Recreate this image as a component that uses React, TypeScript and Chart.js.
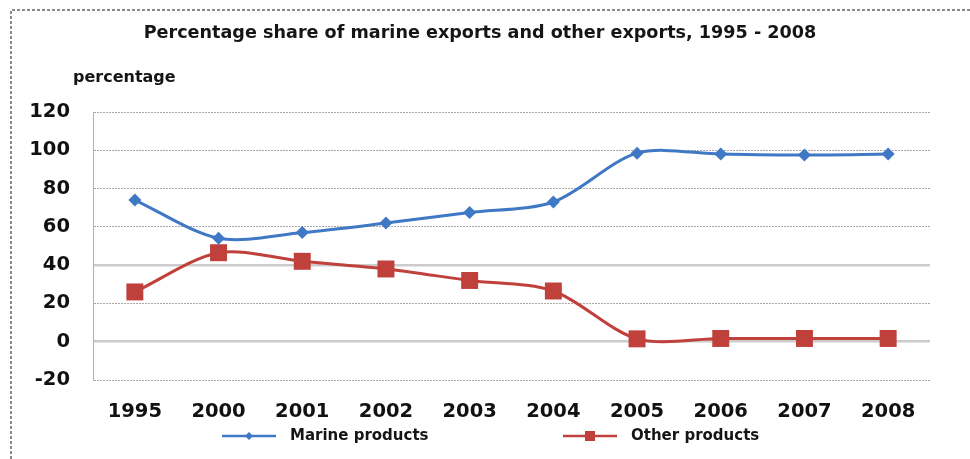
import React, { useEffect, useRef } from 'react';
import { Chart, registerables } from 'chart.js';

Chart.register(...registerables);

const categories = ['1995', '2000', '2001', '2002', '2003', '2004', '2005', '2006', '2007', '2008'];
const marineProducts = [74, 54, 57, 62, 67.5, 73, 98.5, 98, 97.5, 98];
const otherProducts = [26, 46.5, 42, 38, 32, 26.5, 1.5, 1.7, 1.7, 1.7];
const seriesNames = ['Marine products', 'Other products'];
const seriesColors = ['#3f78c4', '#c0403c'];
const yMin = -20;
const yMax = 120;
const yStep = 20;
const titleText = 'Percentage share of marine exports and other exports, 1995 - 2008';
const yAxisLabel = 'percentage';

const FONT = '"DejaVu Sans", Verdana, sans-serif';

const decorPlugin = {
  id: 'decor',
  beforeDraw(chart: any) {
    const ctx = chart.ctx;
    ctx.save();
    ctx.strokeStyle = '#8a8a8a';
    ctx.lineWidth = 2;
    ctx.setLineDash([3, 2]);
    ctx.beginPath();
    ctx.moveTo(11, 459);
    ctx.lineTo(11, 10);
    ctx.lineTo(970, 10);
    ctx.stroke();
    ctx.restore();
  },
  afterDraw(chart: any) {
    const ctx = chart.ctx;
    const area = chart.chartArea;
    ctx.save();
    ctx.fillStyle = '#151515';
    ctx.textBaseline = 'middle';
    // title
    ctx.font = `bold 17.6px ${FONT}`;
    ctx.textAlign = 'left';
    const tw = ctx.measureText(titleText).width;
    ctx.fillText(titleText, 480 - tw / 2, 33);
    // y label
    ctx.font = `bold 16px ${FONT}`;
    ctx.fillText(yAxisLabel, area.left - 20, 78);
    // legend
    const items = [
      { x: 222, textX: 290 },
      { x: 563, textX: 631 },
    ];
    const ly = 436;
    items.forEach((it, i) => {
      ctx.strokeStyle = seriesColors[i];
      ctx.fillStyle = seriesColors[i];
      ctx.lineWidth = 2.5;
      ctx.beginPath();
      ctx.moveTo(it.x, ly);
      ctx.lineTo(it.x + 54, ly);
      ctx.stroke();
      const cx = it.x + 27;
      ctx.beginPath();
      if (i === 0) {
        ctx.moveTo(cx - 4, ly);
        ctx.lineTo(cx, ly - 4);
        ctx.lineTo(cx + 4, ly);
        ctx.lineTo(cx, ly + 4);
        ctx.closePath();
      } else {
        ctx.rect(cx - 5, ly - 5, 10, 10);
      }
      ctx.fill();
      ctx.fillStyle = '#151515';
      ctx.font = `bold 15px ${FONT}`;
      ctx.fillText(seriesNames[i], it.textX, ly);
    });
    ctx.restore();
  },
};

export default function App() {
  const ref = useRef<HTMLCanvasElement | null>(null);
  useEffect(() => {
    if (!ref.current) return;
    const chart = new Chart(ref.current, {
      type: 'line',
      data: {
        labels: categories,
        datasets: [
          {
            label: seriesNames[0],
            data: marineProducts,
            borderColor: seriesColors[0],
            backgroundColor: seriesColors[0],
            borderWidth: 3,
            pointStyle: 'rectRot',
            pointRadius: 6.5,
            pointBorderWidth: 0,
            tension: 0.3,
          },
          {
            label: seriesNames[1],
            data: otherProducts,
            borderColor: seriesColors[1],
            backgroundColor: seriesColors[1],
            borderWidth: 3,
            pointStyle: 'rect',
            pointRadius: 12,
            pointBorderWidth: 0,
            tension: 0.3,
          },
        ],
      },
      options: {
        responsive: false,
        animation: false,
        layout: { padding: { top: 112, right: 40, bottom: 39, left: 0 } },
        plugins: {
          legend: { display: false },
          title: { display: false },
          tooltip: { enabled: false },
        },
        scales: {
          x: {
            offset: true,
            grid: { display: false, drawTicks: false },
            border: { display: false },
            ticks: {
              color: '#111',
              padding: 20,
              font: { family: FONT, size: 19.5, weight: 'bold' },
              maxRotation: 0,
            },
            afterFit(scale: any) {
              scale.height = 40;
            },
          },
          y: {
            min: yMin,
            max: yMax,
            ticks: {
              stepSize: yStep,
              color: '#111',
              padding: 23,
              font: { family: FONT, size: 19.5, weight: 'bold' },
            },
            grid: {
              drawTicks: false,
              color: (c: any) => (c.tick && (c.tick.value === 0 || c.tick.value === 40) ? '#cccccc' : '#a8a8a8'),
              lineWidth: (c: any) => (c.tick && (c.tick.value === 0 || c.tick.value === 40) ? 2.5 : 1),
            },
            border: {
              display: true,
              color: '#b0b0b0',
              width: 1,
              dash: (c: any) => (c.tick && (c.tick.value === 0 || c.tick.value === 40) ? [] : [2, 1]),
            },
            afterFit(scale: any) {
              scale.width = 93;
            },
          },
        },
      },
      plugins: [decorPlugin],
    } as any);
    return () => chart.destroy();
  }, []);
  return (
    <div style={{ position: 'absolute', left: 0, top: 0, width: 970, height: 459, background: '#fff' }}>
      <canvas ref={ref} width={970} height={459} style={{ width: 970, height: 459, display: 'block' }} />
    </div>
  );
}
